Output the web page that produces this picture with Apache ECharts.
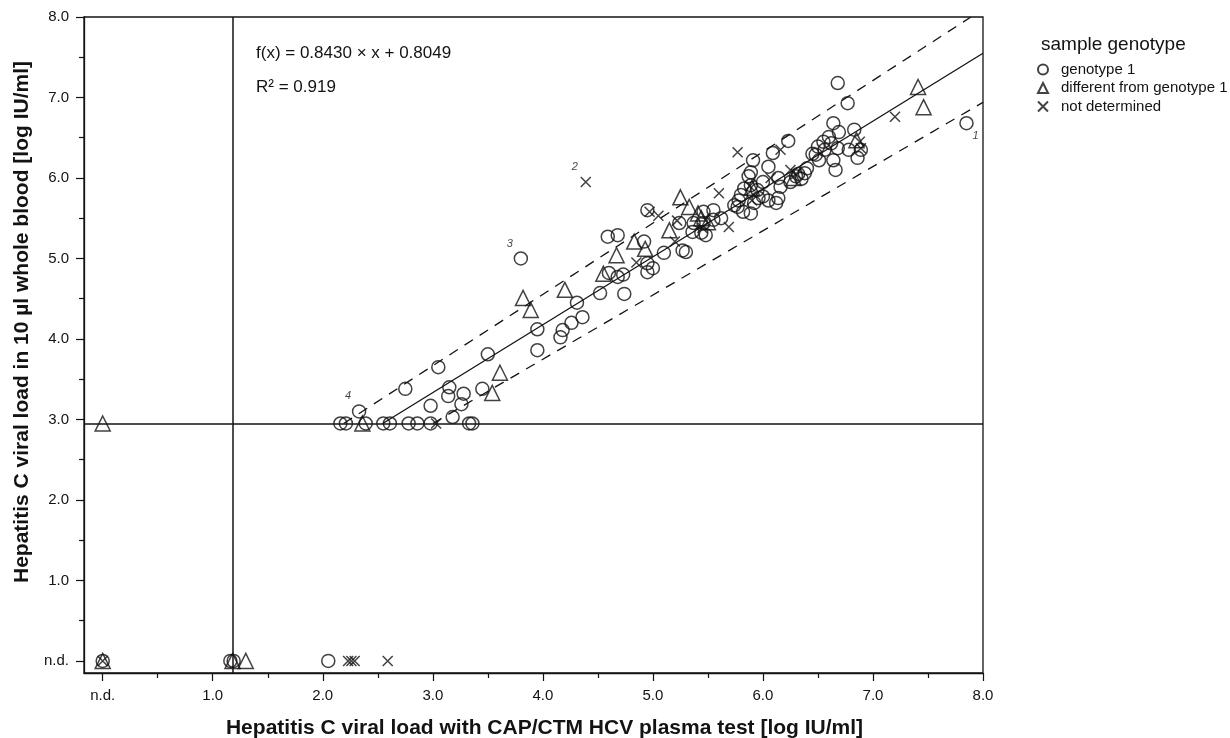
<!DOCTYPE html>
<html style="height: 100%;width:100%">
<head>
<meta charset="utf-8">
<script src="https://cdn.jsdelivr.net/npm/echarts@6/dist/echarts.min.js"></script>
</head>
<body style="height: 100%; width:100%; margin:0">
<div id="chart-panel" style="width:1230px;height:738px"></div>
<script type="text/javascript">
// values, [plasma test, whole blood], 0 = n.d.
var genotype1 = [
[0,0],[1.16,0],[1.19,0],[2.05,0],
[2.16,2.95],[2.21,2.95],[2.39,2.95],[2.55,2.95],[2.61,2.95],[2.78,2.95],[2.86,2.95],[2.98,2.95],[3.33,2.95],[3.36,2.95],
[2.33,3.10],[2.75,3.38],[2.98,3.17],[3.05,3.65],[3.15,3.40],[3.14,3.29],[3.28,3.32],[3.26,3.19],[3.18,3.03],[3.45,3.38],[3.50,3.81],[3.95,4.12],[3.95,3.86],[3.80,5.00],
[4.16,4.02],[4.18,4.11],[4.26,4.20],[4.36,4.27],[4.31,4.45],[4.52,4.57],[4.74,4.56],[4.60,4.82],[4.68,4.77],[4.73,4.80],[4.59,5.27],[4.68,5.29],[4.92,5.21],[4.95,4.94],[5.00,4.88],[4.95,4.83],[5.10,5.07],[4.95,5.60],
[5.24,5.44],[5.27,5.10],[5.30,5.08],[5.46,5.58],[5.55,5.60],[5.37,5.44],[5.46,5.44],[5.55,5.48],[5.62,5.50],[5.36,5.33],[5.44,5.32],[5.48,5.29],
[5.74,5.66],[5.78,5.72],[5.80,5.79],[5.83,5.87],[5.89,5.91],[5.87,6.02],[5.91,6.22],[5.89,6.07],[6.05,6.14],[5.77,5.64],[5.82,5.58],[5.89,5.56],[5.92,5.69],[5.96,5.75],[6.00,5.77],[6.05,5.72],[6.12,5.69],[6.14,5.75],[6.16,5.89],[6.14,6.00],[6.09,6.31],[6.23,6.46],[5.95,5.85],[6.00,5.95],
[6.30,6.02],[6.35,5.99],[6.32,6.05],[6.40,6.12],[6.25,5.95],[6.38,6.06],
[6.50,6.39],[6.48,6.29],[6.51,6.22],[6.56,6.35],[6.62,6.43],[6.64,6.68],[6.69,6.57],[6.60,6.51],[6.68,6.37],[6.64,6.22],[6.66,6.10],[6.78,6.35],[6.83,6.60],[6.86,6.25],[6.89,6.35],[6.68,7.18],[6.77,6.93],[7.85,6.68],[6.45,6.30],[6.55,6.45]
];
var otherGenotype = [
[0,0],[1.18,0],[1.30,0],[0,2.95],[2.36,2.95],[3.82,4.51],[3.89,4.36],[3.61,3.58],[3.54,3.33],[4.20,4.61],[4.55,4.81],[4.67,5.04],[4.83,5.21],[4.93,5.12],
[5.25,5.76],[5.33,5.64],[5.15,5.35],[5.41,5.56],[5.44,5.50],[5.90,5.88],[6.28,6.00],[6.85,6.47],[7.41,7.13],[7.46,6.88],[5.50,5.45]
];
var notDetermined = [
[0,0],[2.23,0],[2.26,0],[2.29,0],[2.59,0],[3.03,2.95],[4.39,5.95],[4.85,4.95],[5.05,5.53],[4.97,5.58],[5.22,5.47],[5.20,5.21],[5.60,5.81],[5.69,5.39],
[5.77,6.32],[6.16,6.35],[6.07,6.00],[5.90,5.72],[5.88,5.90],[6.25,6.10],[6.89,6.37],[6.88,6.45],[7.20,6.76],[5.45,5.38],[6.30,6.05]
];
// numbered outliers
var notes = [[7.85,6.68,'1'],[4.39,5.95,'2'],[3.80,5.00,'3'],[2.33,3.10,'4']];

var slope = 0.8430, intercept = 0.8049;
var detectX = 1.18, detectY = 2.95;
var upperBand = [[2.19,2.95],[7.89,8.0]];
var lowerBand = [[3.00,2.95],[8.0,6.94]];
var majorTicks = [0,1,2,3,4,5,6,7,8];
var minorTicks = [0.5,1.5,2.5,3.5,4.5,5.5,6.5,7.5];

var ink = '#141213';
var font = '"Liberation Sans", Arial, sans-serif';
var fitLine = [[(detectY - intercept) / slope, detectY], [8, slope * 8 + intercept]];
var fmt = function (v) { return v === 0 ? 'n.d.' : v.toFixed(1); };
var markStyle = { color: 'transparent', borderColor: ink, borderWidth: 1.5 };

function axis(min, name, gap, pad) {
    return {
        type: 'value', min: min, max: 8, name: name, nameLocation: 'middle', nameGap: gap,
        nameTextStyle: { fontFamily: font, fontSize: 21, fontWeight: 'bold', color: ink, padding: pad },
        axisLine: { show: true, onZero: false, lineStyle: { color: ink, width: 1.3 } },
        axisTick: { show: true, length: 8, customValues: majorTicks, lineStyle: { color: ink, width: 1.2 } },
        axisLabel: { customValues: majorTicks, formatter: fmt, fontFamily: font, fontSize: 15, color: ink, margin: 15 },
        splitLine: { show: false }
    };
}
// second axis only carries the short half-step ticks
function minorAxis(min, pos) {
    return {
        type: 'value', min: min, max: 8, position: pos,
        axisLine: { show: false, onZero: false },
        axisTick: { show: true, length: 5, customValues: minorTicks, lineStyle: { color: ink, width: 1.2 } },
        axisLabel: { show: false }, splitLine: { show: false }
    };
}

var myChart = echarts.init(document.getElementById('chart-panel'));

var option = {
    animation: false,
    backgroundColor: '#fff',
    grid: { left: 84, right: 247, top: 17, bottom: 65, show: true, borderColor: ink, borderWidth: 1.3, outerBoundsMode: 'none', containLabel: false },
    title: [
        { text: 'sample genotype', left: 1036, top: 30, textStyle: { fontFamily: font, fontSize: 19, fontWeight: 'normal', color: ink } },
        { text: 'f(x) = 0.8430 × x + 0.8049', left: 251, top: 40, textStyle: { fontFamily: font, fontSize: 17, fontWeight: 'normal', color: ink } },
        { text: 'R² = 0.919', left: 251, top: 74, textStyle: { fontFamily: font, fontSize: 17, fontWeight: 'normal', color: ink } }
    ],
    legend: {
        orient: 'vertical', left: 1037, top: 62, itemWidth: 10, itemHeight: 10, itemGap: 3.5, padding: 0,
        textStyle: { fontFamily: font, fontSize: 15, lineHeight: 15, color: ink, padding: [0, 0, 0, 8] },
        data: ['genotype 1', 'different from genotype 1', 'not determined']
    },
    xAxis: [axis(-0.17, 'Hepatitis C viral load with CAP/CTM HCV plasma test [log IU/ml]', 45, [0, 0, 0, 22]), minorAxis(-0.17, 'bottom')],
    yAxis: [axis(-0.15, 'Hepatitis C viral load in 10 µl whole blood [log IU/ml]', 42, [0, 0, 0, 46]), minorAxis(-0.15, 'left')],
    series: [
        {
            type: 'line', data: fitLine, symbol: 'none', silent: true,
            lineStyle: { color: ink, width: 1.3 },
            markLine: {
                silent: true, symbol: 'none', label: { show: false },
                lineStyle: { color: ink, width: 1.5, type: 'solid' },
                data: [{ xAxis: detectX }, { yAxis: detectY }]
            }
        },
        { type: 'line', data: upperBand, symbol: 'none', silent: true, lineStyle: { color: ink, width: 1.3, type: [10, 8] } },
        { type: 'line', data: lowerBand, symbol: 'none', silent: true, lineStyle: { color: ink, width: 1.3, type: [10, 8] } },
        { name: 'genotype 1', type: 'scatter', data: genotype1, symbol: 'circle', symbolSize: 13, itemStyle: markStyle },
        { name: 'different from genotype 1', type: 'scatter', data: otherGenotype, symbol: 'triangle', symbolSize: 15, itemStyle: markStyle },
        { name: 'not determined', type: 'scatter', data: notDetermined, symbol: 'path://M0,0L10,10M0,10L10,0', symbolSize: 10, itemStyle: markStyle },
        {
            type: 'scatter', silent: true, symbolSize: 1, itemStyle: { color: 'transparent' },
            data: notes.map(function (n, i) {
                return {
                    value: [n[0], n[1]],
                    label: {
                        show: true, formatter: n[2], fontFamily: font, fontStyle: 'italic', fontSize: 11, color: ink,
                        position: i === 0 ? 'bottom' : 'top', offset: i === 0 ? [9, 2] : [-11, -4]
                    }
                };
            })
        }
    ]
};
myChart.setOption(option);
</script>
</body>
</html>
